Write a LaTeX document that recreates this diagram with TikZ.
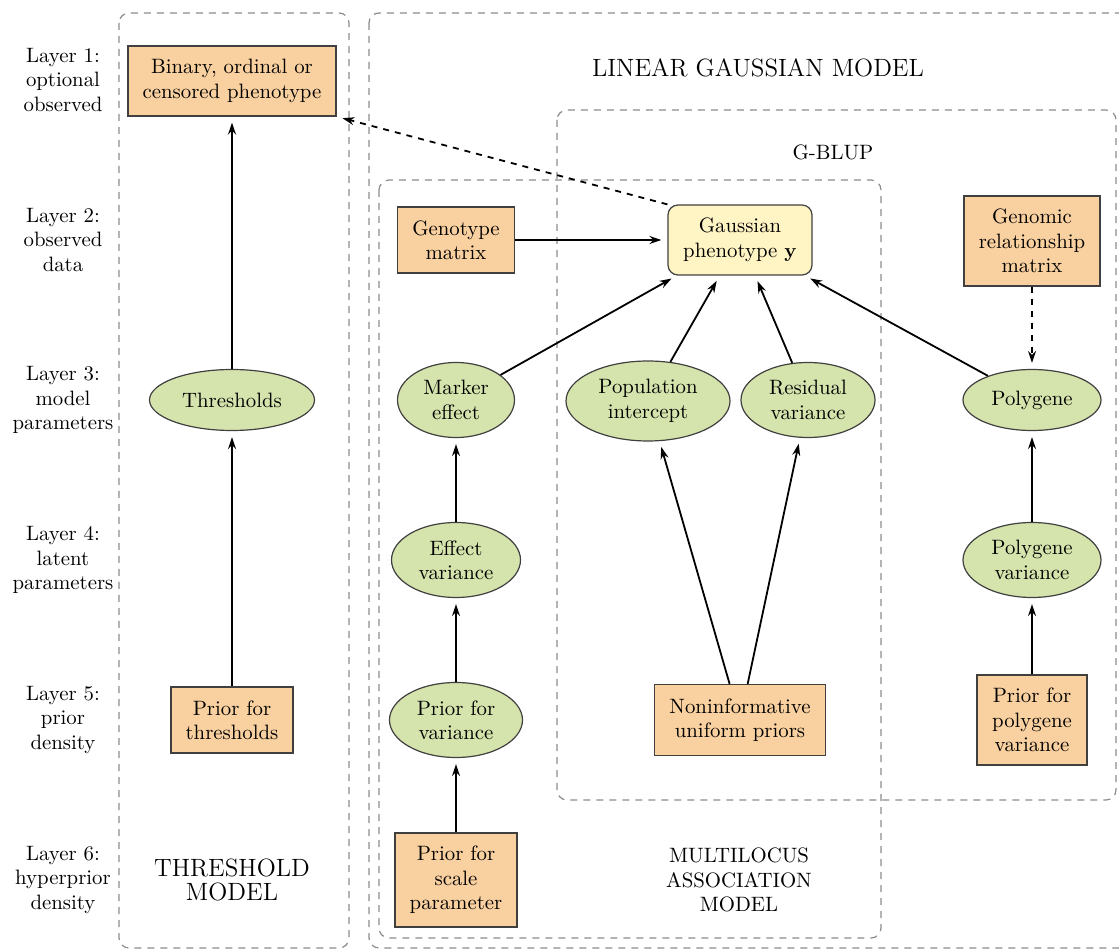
\documentclass[tikz,border=0pt]{standalone}
\usetikzlibrary{shapes.geometric,arrows.meta}
\definecolor{peach}{HTML}{F9D09F}
\definecolor{sage}{HTML}{D5E3AC}
\definecolor{cream}{HTML}{FFF4C4}
\definecolor{framegray}{HTML}{8C8C8C}
\newcommand{\basefont}{\fontsize{10.4}{12.2}\selectfont}
\newcommand{\titlefont}{\fontsize{12.5}{14}\selectfont}
\tikzset{
  prior/.style={draw=black!75, fill=peach, align=center, line width=0.6pt, inner sep=2pt},
  param/.style={ellipse, draw=black!75, fill=sage, align=center, line width=0.6pt, inner sep=1pt},
  obsnode/.style={draw=black!75, fill=cream, align=center, rounded corners=5pt, line width=0.6pt},
  region/.style={draw=framegray, dash pattern=on 3.5pt off 3pt, rounded corners=5pt, line width=0.6pt},
  link/.style={->, line width=0.9pt, shorten >=3pt},
}
\begin{document}
\begin{tikzpicture}[x=0.5pt, y=-0.5pt, font=\basefont, >={Stealth[length=6pt,width=4pt]}]
  \useasboundingbox (0,0) rectangle (1119,951);
  % model regions
  \draw[region] (119,13) rectangle (349,948);
  \draw[region] (369,13) rectangle (1135,948);
  \draw[region] (557,110) rectangle (1116,800);
  \draw[region] (379,180) rectangle (881,938);
  \node[font=\titlefont] at (758,68) {LINEAR GAUSSIAN MODEL};
  \node at (833,152) {G-BLUP};
  \node[font=\titlefont, align=center] at (232,880) {THRESHOLD\\[-2pt]MODEL};
  \node[align=center] at (739,880) {MULTILOCUS\\ASSOCIATION\\MODEL};
  % layer labels
  \foreach \y/\txt in {80/{Layer 1:\\optional\\observed}, 240/{Layer 2:\\observed\\data},
      400/{Layer 3:\\model\\parameters}, 560/{Layer 4:\\latent\\parameters},
      720/{Layer 5:\\prior\\density}, 880/{Layer 6:\\hyperprior\\density}}
    \node[align=center] at (63,\y) {\txt};
  % nodes
  \node[prior, minimum width=104pt, minimum height=35pt] (binary) at (232,81) {Binary, ordinal or\\censored phenotype};
  \node[prior, minimum width=58.5pt, minimum height=33pt] (genotype) at (456,240) {Genotype\\matrix};
  \node[obsnode, minimum width=72pt, minimum height=35pt] (gaussian) at (740,240) {Gaussian\\phenotype $\mathbf{y}$};
  \node[prior, minimum width=68pt, minimum height=45pt] (genomic) at (1032,241) {Genomic\\relationship\\matrix};
  \node[param, minimum width=82.5pt, minimum height=30.5pt] (thresholds) at (232,400) {Thresholds};
  \node[param, minimum width=58.5pt, minimum height=37.5pt] (marker) at (456,400) {Marker\\effect};
  \node[param, minimum width=82pt, minimum height=40pt] (intercept) at (648,401) {Population\\intercept};
  \node[param, minimum width=67pt, minimum height=37.5pt] (residual) at (808,400) {Residual\\variance};
  \node[param, minimum width=69pt, minimum height=30.5pt] (polygene) at (1032,400) {Polygene};
  \node[param, minimum width=64.5pt, minimum height=37.5pt] (effvar) at (456,560) {Effect\\variance};
  \node[param, minimum width=69pt, minimum height=37.5pt] (polyvar) at (1032,560) {Polygene\\variance};
  \node[prior, minimum width=61pt, minimum height=33pt] (priorthr) at (232,720) {Prior for\\thresholds};
  \node[param, minimum width=66.5pt, minimum height=37.5pt] (priorvar) at (456,720) {Prior for\\variance};
  \node[prior, minimum width=85.5pt, minimum height=35.5pt] (noninf) at (740,720) {Noninformative\\uniform priors};
  \node[prior, minimum width=55pt, minimum height=45pt] (priorpoly) at (1032,720) {Prior for\\polygene\\variance};
  \node[prior, minimum width=61pt, minimum height=47pt] (priorscale) at (456,880) {Prior for\\scale\\parameter};
  % connectors
  \draw[link] (thresholds) -- (binary);
  \draw[link] (priorthr) -- (thresholds);
  \draw[link, dashed] (gaussian.north west) -- (binary.south east);
  \draw[link] (genotype) -- (gaussian);
  \draw[link] (marker) -- (gaussian);
  \draw[link] (intercept) -- (gaussian);
  \draw[link] (residual) -- (gaussian);
  \draw[link] (polygene) -- (gaussian);
  \draw[link, dashed] (genomic) -- (polygene);
  \draw[link] (effvar) -- (marker);
  \draw[link] (priorvar) -- (effvar);
  \draw[link] (priorscale) -- (priorvar);
  \draw[link] (noninf) -- (intercept);
  \draw[link] (noninf) -- (residual);
  \draw[link] (polyvar) -- (polygene);
  \draw[link] (priorpoly) -- (polyvar);
\end{tikzpicture}
\end{document}
